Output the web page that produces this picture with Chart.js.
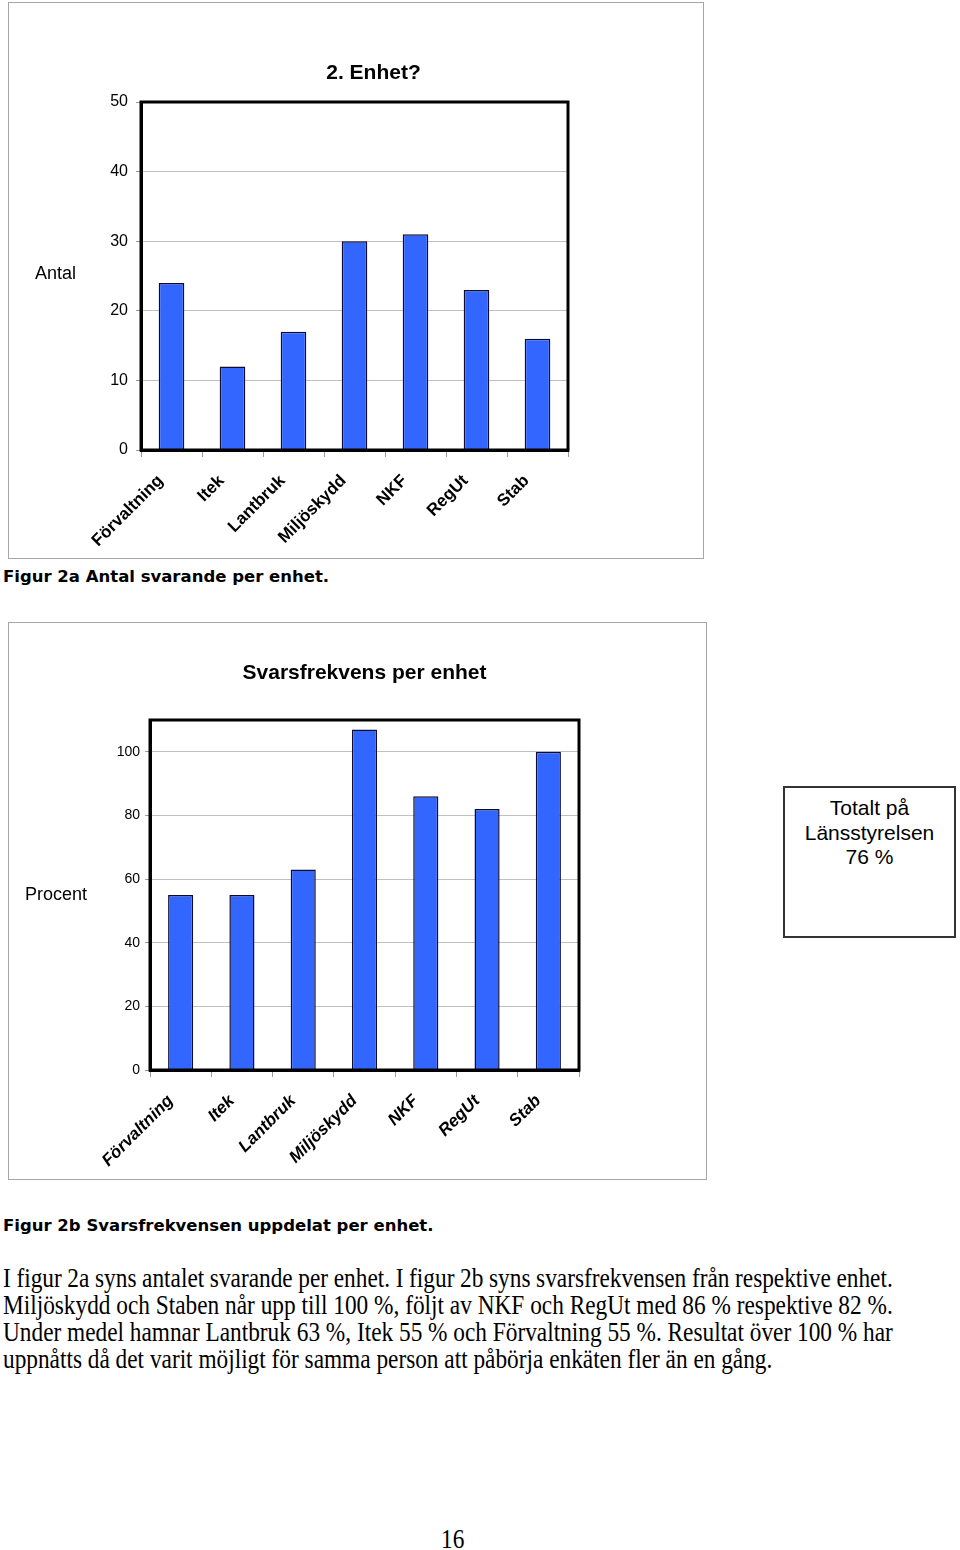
<!DOCTYPE html>
<html>
<head>
<meta charset="utf-8">
<script src="https://cdn.jsdelivr.net/npm/chart.js@4.4.1/dist/chart.umd.min.js"></script>
<style>
  html, body { margin: 0; padding: 0; background: #fff; }
  body { width: 960px; height: 1550px; position: relative; overflow: hidden; font-family: "Liberation Sans", Arial, sans-serif; color: #000; }
  .frame { position: absolute; box-sizing: border-box; border: 1px solid #a6a6a6; background: #fff; }
  canvas { position: absolute; }
  .caption { position: absolute; left: 3px; font-family: "DejaVu Sans", Verdana, sans-serif; font-weight: bold; font-size: 16.5px; line-height: 20px; white-space: nowrap; }
  .box { position: absolute; left: 783px; top: 786px; width: 173px; height: 152px; box-sizing: border-box; border: 2px solid #333; text-align: center; font-family: "Liberation Sans", Arial, sans-serif; font-size: 21px; line-height: 24.5px; padding-top: 8px; }
  .para { position: absolute; left: 3px; top: 1265px; width: 1031px; font-family: "Liberation Serif", "Times New Roman", serif; font-size: 27px; line-height: 27px; transform: scaleX(0.863); transform-origin: 0 0; }
  .para div { white-space: nowrap; }
  .para .j { text-align: justify; text-align-last: justify; white-space: normal; word-spacing: -3px; }
  .pageno { position: absolute; left: 441px; top: 1526px; font-family: "Liberation Serif", "Times New Roman", serif; font-size: 27px; line-height: 27px; transform: scaleX(0.863); transform-origin: 0 0; }
</style>
</head>
<body>
<div class="frame" style="left:8px;top:2px;width:696px;height:557px;"></div>
<canvas id="c1" width="694" height="555" style="left:9px;top:3px;"></canvas>
<div class="caption" style="top:567px;">Figur 2a Antal svarande per enhet.</div>

<div class="frame" style="left:8px;top:622px;width:699px;height:558px;"></div>
<canvas id="c2" width="697" height="556" style="left:9px;top:623px;"></canvas>
<div class="box">Totalt på<br>Länsstyrelsen<br>76 %</div>
<div class="caption" style="top:1216px;">Figur 2b Svarsfrekvensen uppdelat per enhet.</div>

<div class="para">
  <div class="j">I figur 2a syns antalet svarande per enhet. I figur 2b syns svarsfrekvensen från respektive enhet.</div>
  <div class="j">Miljöskydd och Staben når upp till 100 %, följt av NKF och RegUt med 86 % respektive 82 %.</div>
  <div class="j">Under medel hamnar Lantbruk 63 %, Itek 55 % och Förvaltning 55 %. Resultat över 100 % har</div>
  <div>uppnåtts då det varit möjligt för samma person att påbörja enkäten fler än en gång.</div>
</div>
<div class="pageno">16</div>

<script>
// ---- Data ----
const categories = ['Förvaltning', 'Itek', 'Lantbruk', 'Miljöskydd', 'NKF', 'RegUt', 'Stab'];
const antalValues = [24, 12, 17, 30, 31, 23, 16];
const procentValues = [55, 55, 63, 107, 86, 82, 100];
const antalTicks = [0, 10, 20, 30, 40, 50];
const procentTicks = [0, 20, 40, 60, 80, 100];
const antalTitle = '2. Enhet?';
const procentTitle = 'Svarsfrekvens per enhet';
const antalAxisTitle = 'Antal';
const procentAxisTitle = 'Procent';

// ---- Plugin: plot frame, chart title and horizontal axis title ----
const decor = {
  id: 'decor',
  afterDraw(chart, args, o) {
    const { ctx, chartArea: a } = chart;
    ctx.save();
    ctx.strokeStyle = '#000';
    ctx.lineWidth = 3;
    ctx.strokeRect(a.left, a.top, a.right - a.left, a.bottom - a.top);
    ctx.fillStyle = '#000';
    ctx.textBaseline = 'middle';
    ctx.textAlign = 'center';
    ctx.font = 'bold 21px "Liberation Sans", Arial, sans-serif';
    ctx.fillText(o.title, (a.left + a.right) / 2 + o.titleDx, a.top - o.titleGap);
    ctx.textAlign = 'left';
    ctx.font = '18px "Liberation Sans", Arial, sans-serif';
    ctx.fillText(o.axisTitle, a.left - o.axisTitleDx, (a.top + a.bottom) / 2 + o.axisTitleDy);
    ctx.restore();
  }
};

function makeChart(id, values, tickVals, max, opt) {
  return new Chart(document.getElementById(id), {
    type: 'bar',
    data: {
      labels: categories,
      datasets: [{
        data: values,
        backgroundColor: '#3366FF',
        borderColor: '#0d0d33',
        borderWidth: 1.5,
        borderSkipped: 'bottom',
        barPercentage: opt.barPct,
        categoryPercentage: 1
      }]
    },
    options: {
      responsive: false,
      animation: false,
      devicePixelRatio: 1,
      layout: { padding: { left: 0, right: opt.padRight, top: opt.padTop, bottom: 0 } },
      plugins: {
        legend: { display: false },
        tooltip: { enabled: false },
        title: { display: false },
        decor: opt.decor
      },
      scales: {
        x: {
          grid: { display: true, offset: true, drawOnChartArea: false, drawTicks: true, tickLength: 7, tickColor: '#999', color: '#999' },
          border: { display: true, color: '#000', width: 3 },
          ticks: {
            autoSkip: false, minRotation: 45, maxRotation: 45, padding: opt.xPad, labelOffset: opt.xOff,
            color: '#000',
            font: { family: '"Liberation Sans", Arial, sans-serif', size: 17, weight: 'bold', style: opt.italic ? 'italic' : 'normal' }
          },
          afterFit(s) { s.height = opt.xHeight; }
        },
        y: {
          min: 0, max: max,
          grid: { color: '#c0c0c0', lineWidth: 1, drawTicks: true, tickLength: 5, tickColor: '#999' },
          border: { display: true, color: '#000', width: 3 },
          ticks: {
            includeBounds: false, padding: opt.yPad, color: '#000',
            font: { family: '"Liberation Sans", Arial, sans-serif', size: opt.yFont }
          },
          afterBuildTicks(s) { s.ticks = tickVals.map(v => ({ value: v })); },
          afterFit(s) { s.width = opt.yWidth; }
        }
      }
    },
    plugins: [decor]
  });
}

makeChart('c1', antalValues, antalTicks, 50, {
  barPct: 0.42, padRight: 135, padTop: 99, xHeight: 108, yWidth: 132, yFont: 16, yPad: 8, xPad: 14, xOff: -11, italic: false,
  decor: { title: antalTitle, titleDx: 19, titleGap: 29, axisTitle: antalAxisTitle, axisTitleDx: 106, axisTitleDy: -2 }
});

makeChart('c2', procentValues, procentTicks, 110, {
  barPct: 0.41, padRight: 127, padTop: 97, xHeight: 109, yWidth: 141, yFont: 14, yPad: 5, xPad: 14, xOff: -10, italic: true,
  decor: { title: procentTitle, titleDx: 0, titleGap: 47, axisTitle: procentAxisTitle, axisTitleDx: 125, axisTitleDy: 0 }
});
</script>
</body>
</html>
